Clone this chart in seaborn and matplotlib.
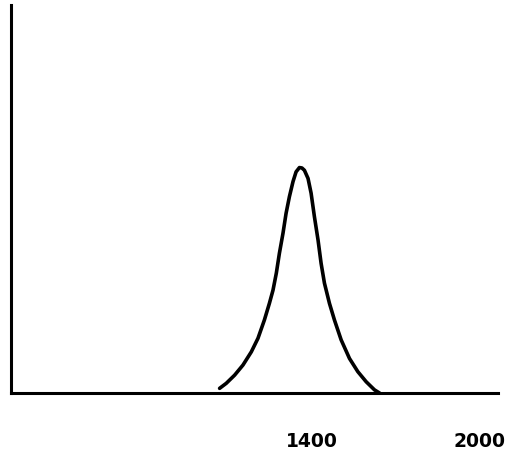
import numpy as np
import pandas as pd
import matplotlib
matplotlib.use("Agg")
import matplotlib.pyplot as plt
import seaborn as sns

# --- data ---
wavenumber = [1067, 1091, 1121, 1151, 1181, 1205, 1228, 1246, 1259, 1271, 1282,
              1295, 1306, 1318, 1331, 1342, 1354, 1363, 1372, 1385, 1396, 1408,
              1421, 1432, 1444, 1462, 1480, 1504, 1534, 1564, 1594, 1624, 1642]
intensity = [0.012, 0.025, 0.046, 0.072, 0.106, 0.141, 0.188, 0.231, 0.265, 0.309, 0.360,
             0.412, 0.463, 0.506, 0.545, 0.570, 0.581, 0.580, 0.574, 0.553, 0.515, 0.454,
             0.394, 0.334, 0.283, 0.231, 0.188, 0.137, 0.089, 0.055, 0.029, 0.008, 0.0]
tick_pos = [1400, 2000]
tick_labels = ["1400", "2000"]

df = pd.DataFrame({"x": wavenumber, "y": intensity})

sns.set_style("white")
fig = plt.figure(figsize=(5.16, 4.57), dpi=100)
ax = fig.add_axes([11 / 516, 64 / 457, 487 / 516, 388 / 457])

sns.lineplot(data=df, x="x", y="y", ax=ax, color="black", linewidth=2.6,
             sort=False, solid_joinstyle="round", solid_capstyle="round")

ax.set_xlim(317, 2068)
ax.set_ylim(0, 1)
ax.set_xticks(tick_pos)
ax.set_xticklabels(tick_labels, fontsize=13.5, fontweight="bold",
                   family="DejaVu Sans", color="black")
ax.set_yticks([])
ax.tick_params(axis="x", length=0, pad=28)
ax.set_xlabel("")
ax.set_ylabel("")

for side in ["top", "right"]:
    ax.spines[side].set_visible(False)
for side in ["left", "bottom"]:
    ax.spines[side].set_color("black")
    ax.spines[side].set_linewidth(2.2)

fig.savefig("out.png", dpi=100)
